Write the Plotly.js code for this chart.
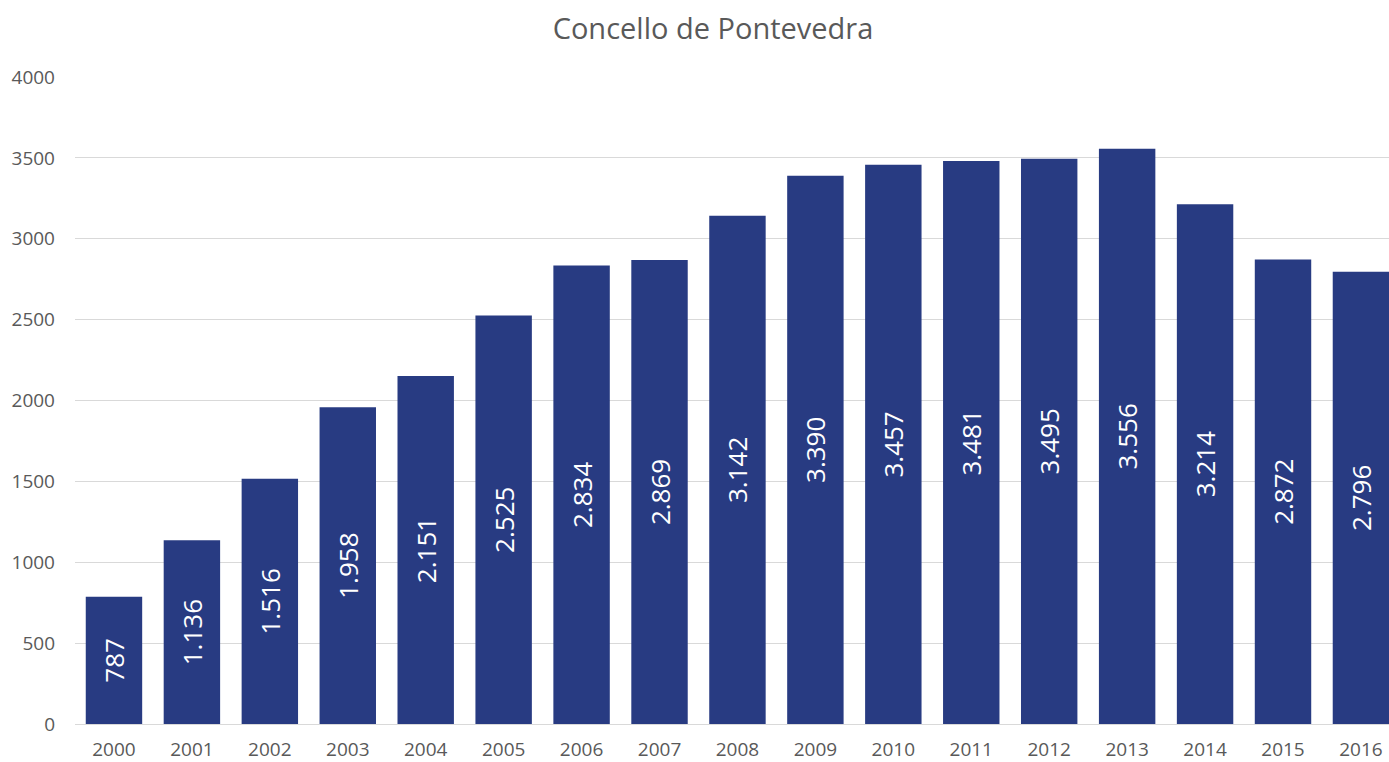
<!DOCTYPE html>
<html>
<head>
<meta charset="utf-8">
<script src="https://cdn.plot.ly/plotly-3.0.1.min.js"></script>
<style>html,body{margin:0;padding:0;background:#fff;}#chart{width:1389px;height:762px;}</style>
</head>
<body>
<div id="chart"></div>
<script>
const years = ["2000","2001","2002","2003","2004","2005","2006","2007","2008","2009","2010","2011","2012","2013","2014","2015","2016"];
const values = [787,1136,1516,1958,2151,2525,2834,2869,3142,3390,3457,3481,3495,3556,3214,2872,2796];
const titleText = "Concello de Pontevedra";

const trace = {
  type: "bar",
  x: years,
  y: values,
  marker: {color: "#283b82"},
  texttemplate: "%{y:,.0f}",
  textposition: "inside",
  insidetextanchor: "middle",
  textangle: -90,
  textfont: {family: "Open Sans", size: 26, color: "#ffffff"},
  hoverinfo: "x+y"
};

const layout = {
  width: 1389, height: 762,
  margin: {l: 75, r: 0, t: 77, b: 38},
  paper_bgcolor: "#ffffff", plot_bgcolor: "#ffffff",
  separators: ",.",
  bargap: 0.276,
  showlegend: false,
  title: {text: titleText, x: 0.5133, xanchor: "center", y: 0.962, yanchor: "middle",
          font: {family: "Open Sans", size: 29, color: "#595959"}},
  xaxis: {
    type: "category",
    range: [-0.5, 16.36],
    showgrid: false, zeroline: false, showline: false,
    ticks: "", ticklabelstandoff: 12,
    tickfont: {family: "Open Sans", size: 19, color: "#595959"}
  },
  yaxis: {
    range: [0, 4000], dtick: 500,
    showgrid: true, gridcolor: "#d9d9d9", gridwidth: 1,
    zeroline: true, zerolinecolor: "#d9d9d9", zerolinewidth: 1,
    showline: false, ticks: "", ticklabelstandoff: 19,
    tickformat: "d",
    tickfont: {family: "Open Sans", size: 19, color: "#595959"}
  }
};

Plotly.newPlot("chart", [trace], layout, {displayModeBar: false, staticPlot: true});
</script>
</body>
</html>
